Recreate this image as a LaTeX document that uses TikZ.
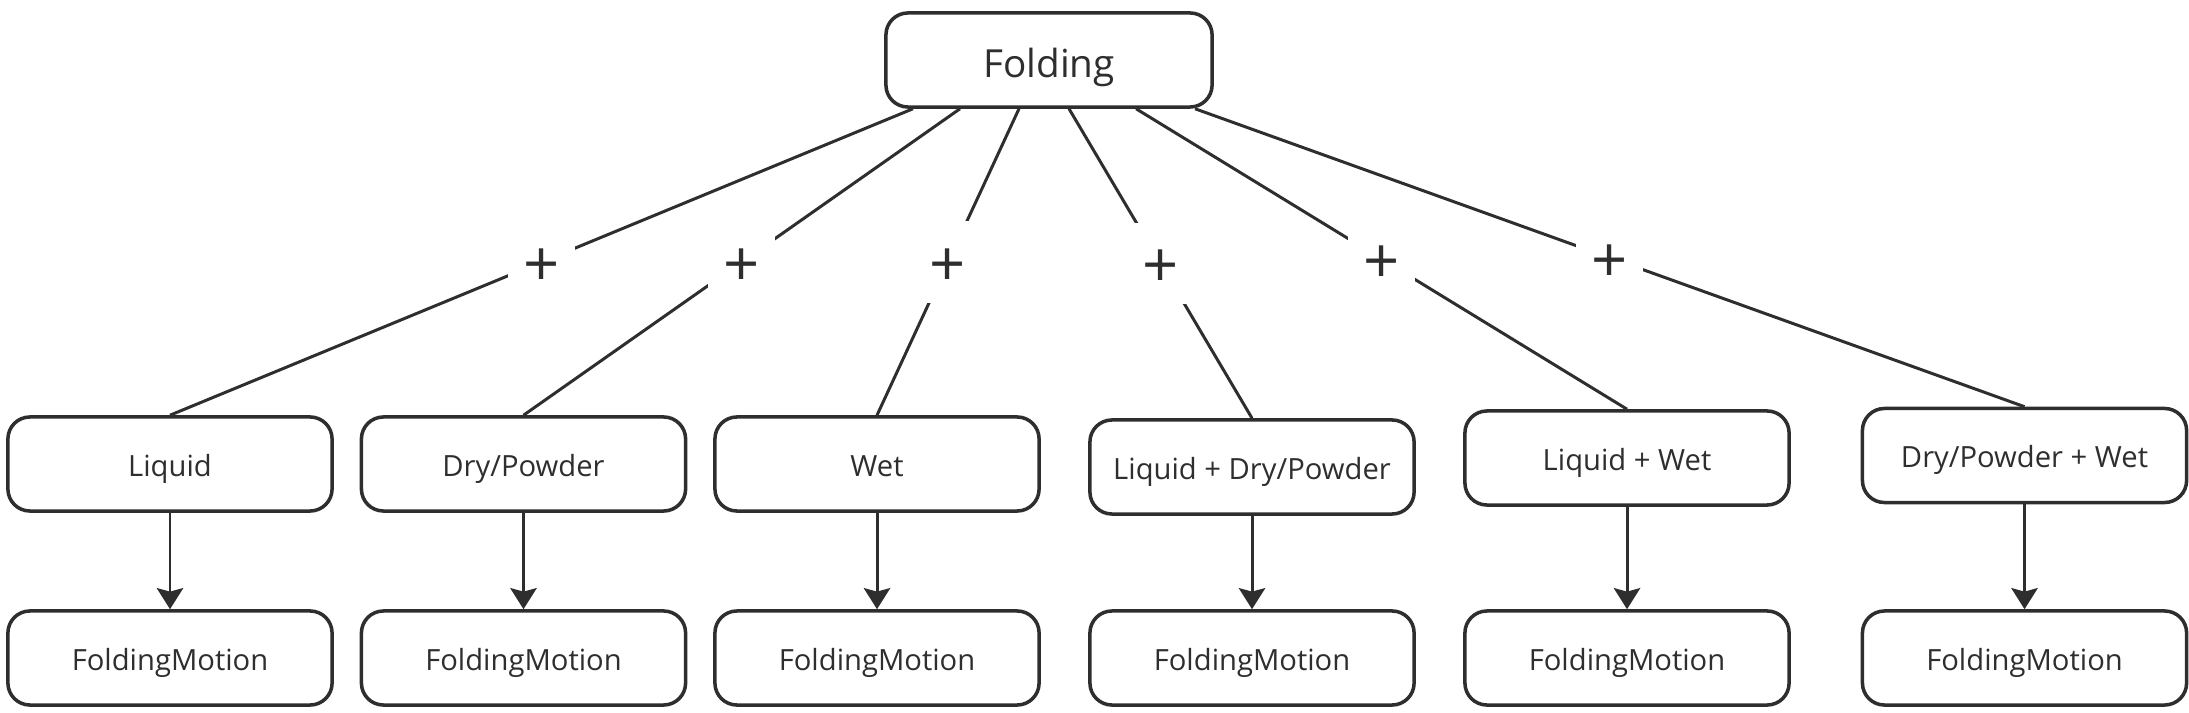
\documentclass[tikz,border=0pt]{standalone}
\usepackage{fontspec}
\setmainfont{Open Sans}
\usetikzlibrary{arrows.meta}
\definecolor{ink}{HTML}{2E2E2E}
\begin{document}
\begin{tikzpicture}[x=0.01cm,y=-0.01cm,
  box/.style={draw=ink, line width=1pt, rounded corners=0.22cm, minimum width=3.24cm, minimum height=0.94cm, text=ink, font=\fontsize{8.3}{10}\selectfont, inner sep=0pt, text height=7.9pt, text depth=1pt},
  topbox/.style={box, minimum width=3.26cm, font=\fontsize{11}{13}\selectfont, text height=10.9pt},
  conn/.style={draw=ink, line width=0.85pt},
  plus/.style={fill=white, text=ink, font=\fontsize{18}{20}\selectfont, minimum width=0.67cm, minimum height=0.81cm, inner sep=0pt, text height=13.8pt, text depth=0pt},
  arr/.style={conn, -{Stealth[length=6pt,width=7.5pt,inset=1pt]}}]
\useasboundingbox (0,0) rectangle (2189,713);
\node[topbox] (top) at (1049,60) {Folding};
\node[box] (m1) at (170,464) {Liquid};
\node[box] (m2) at (523.5,464) {Dry/Powder};
\node[box] (m3) at (877,464) {Wet};
\node[box] (m4) at (1252,467) {Liquid + Dry/Powder};
\node[box] (m5) at (1627,458) {Liquid + Wet};
\node[box] (m6) at (2024.5,455.5) {Dry/Powder + Wet};
\node[box] (b1) at (170,658) {FoldingMotion};
\node[box] (b2) at (523.5,658) {FoldingMotion};
\node[box] (b3) at (877,658) {FoldingMotion};
\node[box] (b4) at (1252,658) {FoldingMotion};
\node[box] (b5) at (1627,658) {FoldingMotion};
\node[box] (b6) at (2024.5,658) {FoldingMotion};
\draw[conn] ([xshift=-1.36cm]top.south) -- node[plus]{+} (m1.north);
\draw[conn] ([xshift=-0.89cm]top.south) -- node[plus]{+} (m2.north);
\draw[conn] ([xshift=-0.30cm]top.south) -- node[plus]{+} (m3.north);
\draw[conn] ([xshift=0.20cm]top.south) -- node[plus]{+} (m4.north);
\draw[conn] ([xshift=0.87cm]top.south) -- node[plus]{+} (m5.north);
\draw[conn] ([xshift=1.46cm]top.south) -- node[plus]{+} (m6.north);
\foreach \i in {1,...,6} {\draw[arr] (m\i.south) -- (b\i.north);}
\end{tikzpicture}
\end{document}
